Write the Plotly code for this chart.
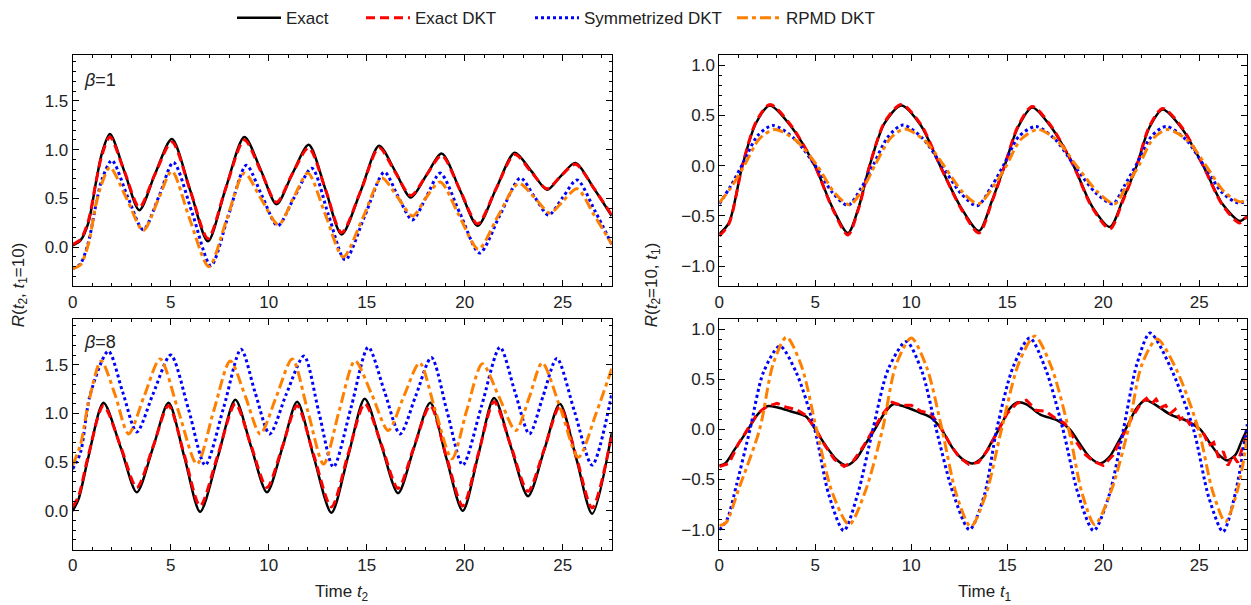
import plotly.graph_objects as go

# ---- beta = 1, R(t2, t1=10) ----
a_exact_t = [0, 0.4, 0.8, 1.2, 1.5, 1.9, 2.65, 3.4, 4.2, 5.06, 6.0, 6.9, 7.8, 8.76, 9.6, 10.4, 11.2, 12.04,
             12.9, 13.72, 14.7, 15.63, 16.45, 17.25, 18.05, 18.83, 19.75, 20.66, 21.6, 22.55, 23.4, 24.2,
             24.9, 25.65, 26.6, 27.5]
a_exact_r = [0.02, 0.07, 0.25, 0.68, 0.97, 1.16, 0.77, 0.38, 0.75, 1.11, 0.58, 0.06, 0.6, 1.13, 0.79, 0.44,
             0.75, 1.05, 0.59, 0.13, 0.58, 1.04, 0.78, 0.51, 0.74, 0.96, 0.59, 0.22, 0.6, 0.97, 0.78, 0.59,
             0.73, 0.865, 0.6, 0.32]
a_dkt_r = [0.03, 0.08, 0.27, 0.68, 0.95, 1.13, 0.77, 0.41, 0.75, 1.08, 0.58, 0.09, 0.6, 1.1, 0.78, 0.46,
           0.75, 1.02, 0.59, 0.15, 0.58, 1.02, 0.77, 0.53, 0.74, 0.94, 0.59, 0.24, 0.6, 0.95, 0.77, 0.6,
           0.73, 0.85, 0.6, 0.33]
a_sym_t = [0, 0.4, 0.8, 1.2, 1.5, 2.0, 2.8, 3.6, 4.4, 5.14, 6.1, 7.05, 7.95, 8.86, 9.65, 10.46, 11.3, 12.2,
           13.05, 13.9, 14.9, 15.9, 16.6, 17.33, 18.05, 18.75, 19.75, 20.76, 21.8, 22.84, 23.55, 24.28,
           25.0, 25.73, 26.65, 27.5]
a_sym_r = [-0.22, -0.17, 0.05, 0.45, 0.7, 0.89, 0.52, 0.18, 0.52, 0.87, 0.35, -0.19, 0.33, 0.84, 0.53, 0.22,
           0.51, 0.81, 0.33, -0.13, 0.32, 0.77, 0.52, 0.28, 0.52, 0.76, 0.35, -0.06, 0.33, 0.71, 0.52, 0.33,
           0.51, 0.69, 0.37, 0.03]
a_rpmd_t = [0, 0.4, 0.8, 1.2, 1.5, 1.9, 2.75, 3.6, 4.35, 5.06, 5.95, 6.95, 7.85, 8.76, 9.6, 10.5, 11.25, 12.0,
            12.9, 13.8, 14.8, 15.77, 16.55, 17.35, 18.0, 18.75, 19.7, 20.7, 21.7, 22.75, 23.6, 24.35,
            25.0, 25.73, 26.6, 27.5]
a_rpmd_r = [-0.22, -0.18, 0.03, 0.45, 0.66, 0.82, 0.5, 0.17, 0.48, 0.78, 0.3, -0.2, 0.28, 0.76, 0.5, 0.23,
            0.5, 0.76, 0.33, -0.1, 0.3, 0.71, 0.52, 0.32, 0.5, 0.67, 0.33, -0.02, 0.32, 0.655, 0.5, 0.35,
            0.47, 0.6, 0.33, 0.03]

# ---- beta = 8, R(t2, t1=10) ----
b_exact_t = [0, 0.3, 0.8, 1.57, 2.45, 3.27, 4.1, 4.89, 5.7, 6.5, 7.4, 8.3, 9.1, 9.91, 10.7, 11.45, 12.3,
             13.2, 14.05, 14.9, 15.75, 16.6, 17.4, 18.24, 19.05, 19.9, 20.7, 21.5, 22.35, 23.23, 24.05,
             24.85, 25.7, 26.5, 27.5]
b_exact_r = [0.0, 0.12, 0.55, 1.11, 0.65, 0.19, 0.65, 1.11, 0.55, -0.01, 0.55, 1.14, 0.66, 0.19, 0.65, 1.12,
             0.55, -0.02, 0.56, 1.15, 0.67, 0.18, 0.64, 1.11, 0.55, 0.0, 0.58, 1.16, 0.66, 0.15, 0.62,
             1.1, 0.53, -0.03, 0.8]
b_dkt_r = [0.04, 0.15, 0.57, 1.08, 0.66, 0.24, 0.66, 1.08, 0.57, 0.05, 0.57, 1.1, 0.67, 0.24, 0.66, 1.08,
           0.57, 0.04, 0.58, 1.1, 0.68, 0.23, 0.65, 1.08, 0.57, 0.05, 0.59, 1.12, 0.67, 0.2, 0.63,
           1.07, 0.55, 0.03, 0.78]
b_sym_t = [0, 0.4, 0.9, 1.82, 2.55, 3.27, 4.1, 5.0, 5.9, 6.76, 7.7, 8.59, 9.3, 10.05, 10.9, 11.8, 12.55,
           13.3, 14.2, 15.08, 15.9, 16.7, 17.5, 18.3, 19.1, 19.9, 20.85, 21.8, 22.55, 23.3, 24.0, 24.7,
           25.6, 26.5, 27.5]
b_sym_r = [0.43, 0.6, 1.2, 1.64, 1.22, 0.81, 1.2, 1.6, 1.05, 0.47, 1.06, 1.66, 1.22, 0.79, 1.2, 1.59, 1.02,
           0.45, 1.06, 1.68, 1.23, 0.79, 1.18, 1.575, 1.02, 0.47, 1.07, 1.68, 1.23, 0.79, 1.18, 1.565,
           1.02, 0.47, 1.2]
b_rpmd_t = [0, 0.4, 0.8, 1.45, 2.15, 2.85, 3.65, 4.46, 5.4, 6.34, 7.2, 8.04, 8.8, 9.57, 10.4, 11.2, 12.0,
            12.8, 13.6, 14.4, 15.25, 16.1, 16.9, 17.7, 18.5, 19.35, 20.1, 20.9, 21.75, 22.6, 23.3, 23.95,
            24.9, 25.8, 26.7, 27.5]
b_rpmd_r = [0.47, 0.68, 1.1, 1.54, 1.2, 0.79, 1.18, 1.56, 1.02, 0.48, 1.03, 1.54, 1.18, 0.79, 1.18, 1.56,
            1.02, 0.48, 1.03, 1.54, 1.2, 0.825, 1.18, 1.52, 1.03, 0.535, 1.03, 1.51, 1.17, 0.825, 1.17,
            1.52, 1.04, 0.55, 1.0, 1.46]

# ---- beta = 1, R(t2=10, t1) ----
c_exact_t = [0, 0.5, 1.2, 1.9, 2.63, 3.7, 4.97, 5.9, 6.7, 7.25, 7.83, 8.6, 9.48, 10.5, 11.5, 12.6, 13.52,
             14.2, 14.86, 15.55, 16.3, 17.3, 18.45, 19.4, 20.35, 21.0, 21.74, 22.4, 23.1, 24.1, 25.2,
             26.2, 27.1, 27.5]
c_exact_r = [-0.68, -0.57, 0.0, 0.42, 0.6, 0.4, 0.0, -0.42, -0.67, -0.42, 0.0, 0.42, 0.6, 0.4, 0.0, -0.42,
             -0.65, -0.35, 0.0, 0.38, 0.58, 0.38, 0.0, -0.4, -0.61, -0.35, 0.0, 0.38, 0.56, 0.37, 0.0,
             -0.38, -0.55, -0.5]
c_dkt_r = [-0.7, -0.58, 0.0, 0.43, 0.61, 0.41, 0.0, -0.43, -0.69, -0.43, 0.0, 0.43, 0.61, 0.41, 0.0, -0.43,
           -0.67, -0.36, 0.0, 0.39, 0.59, 0.39, 0.0, -0.41, -0.63, -0.36, 0.0, 0.39, 0.57, 0.38, 0.0,
           -0.39, -0.57, -0.5]
c_sym_t = [0, 0.6, 1.25, 2.0, 2.8, 3.9, 5.0, 5.9, 6.7, 7.4, 8.0, 8.8, 9.57, 10.6, 11.6, 12.6, 13.43, 14.2,
           14.85, 15.6, 16.5, 17.5, 18.5, 19.6, 20.5, 21.1, 21.75, 22.5, 23.27, 24.3, 25.25, 26.2, 27.0,
           27.5]
c_sym_r = [-0.38, -0.2, 0.03, 0.3, 0.4, 0.27, 0.0, -0.27, -0.395, -0.22, 0.0, 0.29, 0.405, 0.27, 0.0, -0.28,
           -0.4, -0.2, 0.02, 0.29, 0.39, 0.26, 0.0, -0.27, -0.38, -0.2, 0.02, 0.29, 0.39, 0.26, 0.0,
           -0.27, -0.37, -0.35]
c_rpmd_t = [0, 0.6, 1.3, 2.1, 2.9, 4.0, 5.1, 6.0, 6.8, 7.5, 8.1, 8.9, 9.65, 10.7, 11.7, 12.7, 13.5, 14.3,
            14.95, 15.7, 16.6, 17.6, 18.6, 19.7, 20.6, 21.2, 21.85, 22.6, 23.35, 24.4, 25.35, 26.3, 27.1,
            27.5]
c_rpmd_r = [-0.37, -0.22, 0.0, 0.27, 0.36, 0.25, 0.0, -0.27, -0.39, -0.22, 0.0, 0.27, 0.365, 0.25, 0.0,
            -0.27, -0.38, -0.2, 0.0, 0.26, 0.36, 0.25, 0.0, -0.26, -0.38, -0.2, 0.0, 0.27, 0.36, 0.25, 0.0,
            -0.26, -0.36, -0.34]

# ---- beta = 8, R(t2=10, t1) ----
d_exact_t = [0, 0.3, 0.8, 1.5, 2.0, 2.5, 3.0, 3.7, 4.5, 5.0, 5.5, 6.1, 6.62, 7.1, 7.6, 8.1, 8.6, 9.05, 9.6,
             10.4, 11.0, 11.5, 12.2, 12.7, 13.2, 13.7, 14.2, 14.7, 15.1, 15.56, 16.0, 16.7, 17.65, 18.26,
             18.8, 19.3, 19.83, 20.3, 20.8, 21.3, 21.7, 22.18, 22.6, 23.48, 24.35, 25.05, 25.6, 26.0,
             26.45, 26.9, 27.2, 27.5]
d_exact_r = [-0.36, -0.34, -0.2, 0.0, 0.15, 0.23, 0.22, 0.18, 0.13, 0.0, -0.15, -0.3, -0.36, -0.3, -0.15,
             0.0, 0.16, 0.25, 0.23, 0.17, 0.12, 0.02, -0.2, -0.3, -0.34, -0.28, -0.12, 0.05, 0.2, 0.27,
             0.25, 0.15, 0.085, 0.0, -0.15, -0.28, -0.34, -0.28, -0.12, 0.05, 0.2, 0.29, 0.26, 0.15,
             0.085, 0.0, -0.15, -0.25, -0.31, -0.25, -0.12, 0.0]
d_dkt_t = [0, 0.5, 1.0, 1.5, 2.0, 2.5, 3.0, 3.5, 4.0, 4.5, 5.0, 5.5, 6.0, 6.5, 7.0, 7.5, 8.0, 8.5, 9.0,
           9.5, 10.0, 10.5, 11.0, 11.5, 12.0, 12.5, 13.0, 13.5, 14.0, 14.5, 15.0, 15.5, 16.0, 16.5, 17.0,
           17.5, 18.0, 18.5, 19.0, 19.5, 20.0, 20.5, 21.0, 21.5, 22.0, 22.25, 22.5, 22.75, 23.0, 23.25,
           23.5, 23.75, 24.0, 24.25, 24.5, 24.75, 25.0, 25.25, 25.5, 25.75, 26.0, 26.25, 26.5, 26.75,
           27.0, 27.25, 27.5]
d_dkt_r = [-0.37, -0.34, -0.14, 0.01, 0.16, 0.23, 0.26, 0.22, 0.2, 0.14, 0.01, -0.16, -0.3, -0.37, -0.31,
           -0.17, -0.01, 0.15, 0.27, 0.24, 0.24, 0.18, 0.16, 0.03, -0.14, -0.28, -0.35, -0.33, -0.2,
           -0.02, 0.16, 0.26, 0.29, 0.19, 0.18, 0.11, 0.06, -0.1, -0.24, -0.32, -0.36, -0.26, -0.07,
           0.12, 0.27, 0.31, 0.25, 0.3, 0.22, 0.24, 0.16, 0.2, 0.1, 0.13, 0.05, 0.09, -0.02, -0.05,
           -0.16, -0.13, -0.28, -0.22, -0.36, -0.26, -0.33, -0.18, -0.04]
d_sym_t = [0, 0.4, 0.9, 1.6, 2.3, 3.15, 4.0, 4.97, 5.7, 6.48, 7.2, 8.0, 8.8, 9.74, 10.55, 11.3, 12.2,
           13.03, 13.8, 14.45, 15.3, 16.17, 17.0, 17.9, 18.7, 19.5, 20.3, 21.05, 21.75, 22.44, 23.5,
           24.7, 25.5, 26.24, 26.9, 27.5]
d_sym_r = [-1.0, -0.9, -0.55, 0.0, 0.57, 0.83, 0.57, 0.0, -0.65, -1.01, -0.65, 0.0, 0.6, 0.875, 0.58, 0.0,
           -0.65, -1.0, -0.66, 0.0, 0.62, 0.91, 0.6, 0.0, -0.65, -1.01, -0.66, 0.0, 0.65, 0.96, 0.62, 0.0,
           -0.68, -1.02, -0.62, 0.05]
d_rpmd_t = [0, 0.35, 1.0, 2.1, 2.8, 3.5, 4.3, 5.06, 5.9, 6.76, 7.6, 8.5, 9.2, 10.0, 10.8, 11.6, 12.35,
            13.1, 13.9, 14.7, 15.6, 16.43, 17.3, 18.2, 18.9, 19.56, 20.4, 21.3, 22.0, 22.8, 23.8, 24.96,
            25.7, 26.36, 27.0, 27.5]
d_rpmd_r = [-0.96, -0.93, -0.6, 0.0, 0.65, 0.92, 0.62, 0.0, -0.64, -0.95, -0.62, 0.0, 0.64, 0.91, 0.62, 0.0,
            -0.65, -0.97, -0.64, 0.0, 0.66, 0.93, 0.62, 0.0, -0.64, -0.95, -0.62, 0.0, 0.64, 0.9, 0.6, 0.0,
            -0.62, -0.92, -0.6, -0.08]

seriesNames = ['Exact', 'Exact DKT', 'Symmetrized DKT', 'RPMD DKT']
seriesColors = ['#000000', '#FF0000', '#0000FF', '#FF8000']
seriesDash = ['solid', '9px,5px', '3px,3px', '11px,4px,4px,4px']
seriesWidth = [2.5, 3, 3, 3]
# one legend per series so the spacing between entries can follow the original
legendIds = ['legend', 'legend2', 'legend3', 'legend4']
legendLeft = [232, 361, 530, 732]

fontFamily = 'Liberation Sans, Arial, sans-serif'
textColor = '#222222'

panels = [
    # (axis suffix, [(t, r) per series], line shape of DKT)
    ('', [(a_exact_t, a_exact_r), (a_exact_t, a_dkt_r), (a_sym_t, a_sym_r), (a_rpmd_t, a_rpmd_r)], 'spline'),
    ('2', [(c_exact_t, c_exact_r), (c_exact_t, c_dkt_r), (c_sym_t, c_sym_r), (c_rpmd_t, c_rpmd_r)], 'spline'),
    ('3', [(b_exact_t, b_exact_r), (b_exact_t, b_dkt_r), (b_sym_t, b_sym_r), (b_rpmd_t, b_rpmd_r)], 'spline'),
    ('4', [(d_exact_t, d_exact_r), (d_dkt_t, d_dkt_r), (d_sym_t, d_sym_r), (d_rpmd_t, d_rpmd_r)], 'linear'),
]

fig = go.Figure()

for p, (suffix, data, dktShape) in enumerate(panels):
    for i, (t, r) in enumerate(data):
        assert len(t) == len(r), (p, i, len(t), len(r))
        shape = dktShape if i == 1 else 'spline'
        fig.add_trace(go.Scatter(
            x=t, y=r,
            mode='lines',
            line=dict(color=seriesColors[i], dash=seriesDash[i], width=seriesWidth[i],
                      shape=shape, smoothing=0.8),
            name=seriesNames[i],
            legend=legendIds[i],
            showlegend=(p == 0),
            xaxis='x' + suffix, yaxis='y' + suffix,
        ))


def axisStyle(domain, rng, dtick, minorDtick, fmt, anchor):
    return dict(
        domain=domain, range=rng, dtick=dtick, tick0=0, tickformat=fmt,
        anchor=anchor, automargin=False,
        showline=True, linecolor='black', linewidth=1, mirror='allticks',
        ticks='inside', ticklen=6, tickcolor='black', tickwidth=1,
        minor=dict(ticks='inside', dtick=minorDtick, ticklen=3, tickcolor='black', showgrid=False),
        showgrid=False, zeroline=False,
        tickfont=dict(size=17, color=textColor, family=fontFamily),
    )


leftX = [0.0581, 0.489]
rightX = [0.575, 0.997]
topY = [0.534, 0.921]
botY = [0.0926, 0.479]

fig.update_layout(
    xaxis=axisStyle(leftX, [0, 27.5], 5, 1, 'd', 'y'),
    yaxis=axisStyle(topY, [-0.4, 1.97], 0.5, 0.1, '.1f', 'x'),
    xaxis2=axisStyle(rightX, [0, 27.5], 5, 1, 'd', 'y2'),
    yaxis2=axisStyle(topY, [-1.2, 1.1], 0.5, 0.1, '.1f', 'x2'),
    xaxis3=axisStyle(leftX, [0, 27.5], 5, 1, 'd', 'y3'),
    yaxis3=axisStyle(botY, [-0.4, 1.97], 0.5, 0.1, '.1f', 'x3'),
    xaxis4=axisStyle(rightX, [0, 27.5], 5, 1, 'd', 'y4'),
    yaxis4=axisStyle(botY, [-1.2, 1.1], 0.5, 0.1, '.1f', 'x4'),
)


def label(text, px, py, angle=0, anchorX='center', size=17):
    # px, py are pixel positions from the top-left corner of the figure
    return dict(text=text, x=px / 1251, y=1 - py / 605, xref='paper', yref='paper',
                xanchor=anchorX, yanchor='middle', textangle=angle, showarrow=False,
                font=dict(size=size, color=textColor, family=fontFamily))


fig.update_layout(annotations=[
    label('<i>β</i>=1', 82, 73, anchorX='left', size=18),
    label('<i>β</i>=8', 82, 338, anchorX='left', size=18),
    label('<i>R</i>(<i>t</i><sub>2</sub>, <i>t</i><sub>1</sub>=10)', 20, 281, angle=-90),
    label('<i>R</i>(<i>t</i><sub>2</sub>=10, <i>t</i><sub>1</sub>)', 653, 281, angle=-90),
    label('Time <i>t</i><sub>2</sub>', 342, 593),
    label('Time <i>t</i><sub>1</sub>', 985, 593),
])

legendBoxes = {}
for lid, left in zip(legendIds, legendLeft):
    legendBoxes[lid] = dict(orientation='h', x=left / 1251, xanchor='left', y=1 + 8 / 605, yanchor='top',
                            font=dict(size=17, family=fontFamily, color=textColor),
                            bgcolor='rgba(0,0,0,0)', itemwidth=44)

fig.update_layout(
    width=1251, height=605,
    margin=dict(l=0, r=0, t=0, b=0),
    paper_bgcolor='white', plot_bgcolor='white',
    font=dict(family=fontFamily, size=17, color=textColor),
    showlegend=True,
    **legendBoxes,
)

# the page's default body margin would push the figure 8px right and down
fig.write_html("out.html", config={'displayModeBar': False},
               post_script="document.body.style.margin = '0px';")
